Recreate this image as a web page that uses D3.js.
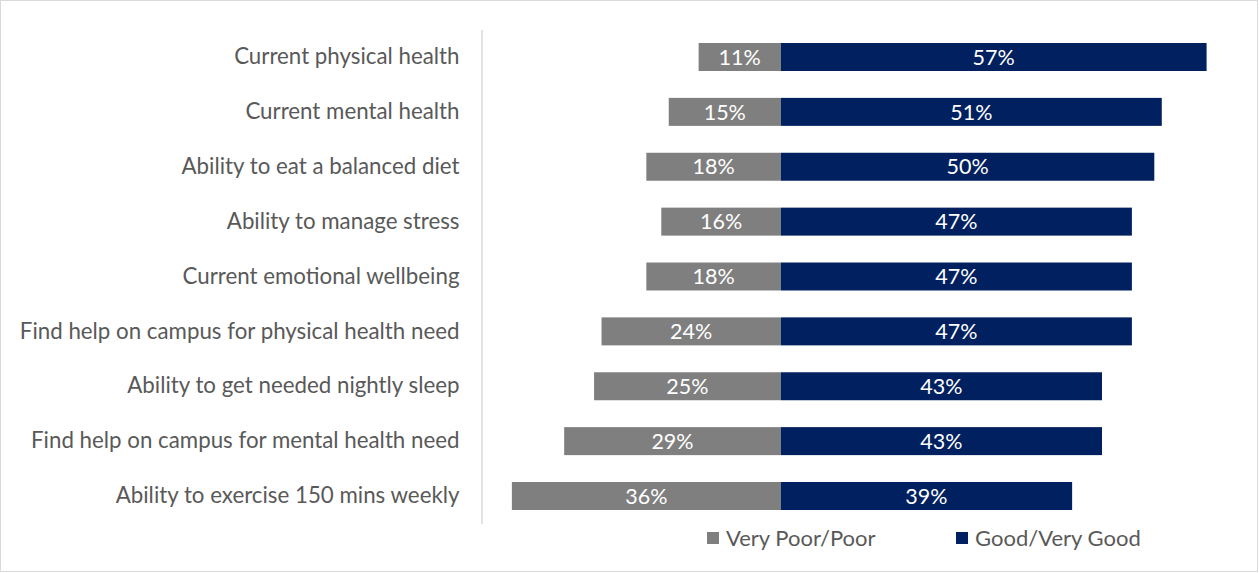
<!DOCTYPE html>
<html>
<head>
<meta charset="utf-8">
<script src="https://cdn.jsdelivr.net/npm/d3@7"></script>
<style>
  html, body { margin: 0; padding: 0; background: #fff; }
  svg { display: block; font-family: Lato, "Open Sans", sans-serif; }
</style>
</head>
<body>
<svg id="chart" width="1259" height="573"></svg>
<script>
// Health & wellbeing self-ratings: share answering poor vs. good
const categories = [
  "Current physical health",
  "Current mental health",
  "Ability to eat a balanced diet",
  "Ability to manage stress",
  "Current emotional wellbeing",
  "Find help on campus for physical health need",
  "Ability to get needed nightly sleep",
  "Find help on campus for mental health need",
  "Ability to exercise 150 mins weekly"
];
const poorValues = [11, 15, 18, 16, 18, 24, 25, 29, 36];
const goodValues = [57, 51, 50, 47, 47, 47, 43, 43, 39];
const seriesNames = ["Very Poor/Poor", "Good/Very Good"];
const seriesColors = ["#7f7f7f", "#002060"];

const svg = d3.select("#chart");

// outer frame
svg.append("rect")
  .attr("x", 0.5).attr("y", 0.5)
  .attr("width", 1257).attr("height", 571)
  .attr("fill", "#fff").attr("stroke", "#d9d9d9");

const x = d3.scaleLinear().domain([-40, 60]).range([482, 1229]);
const y = d3.scaleBand()
  .domain(categories)
  .range([29.56, 523.44])
  .paddingInner(0.49)
  .paddingOuter(0.245);

const rows = categories.map((c, i) => ({ cat: c, poor: poorValues[i], good: goodValues[i] }));

// bars
const g = svg.append("g");
g.selectAll("rect.poor").data(rows).join("rect")
  .attr("class", "poor")
  .attr("x", d => x(-d.poor))
  .attr("y", d => y(d.cat))
  .attr("width", d => x(0) - x(-d.poor))
  .attr("height", y.bandwidth())
  .attr("fill", seriesColors[0]);

g.selectAll("rect.good").data(rows).join("rect")
  .attr("class", "good")
  .attr("x", x(0))
  .attr("y", d => y(d.cat))
  .attr("width", d => x(d.good) - x(0))
  .attr("height", y.bandwidth())
  .attr("fill", seriesColors[1]);

// value labels
g.selectAll("text.poor").data(rows).join("text")
  .attr("class", "poor")
  .attr("x", d => (x(-d.poor) + x(0)) / 2)
  .attr("y", d => y(d.cat) + y.bandwidth() / 2)
  .attr("dy", "0.36em")
  .attr("text-anchor", "middle")
  .attr("fill", "#fff")
  .attr("font-size", 21.5)
  .text(d => d.poor + "%");

g.selectAll("text.good").data(rows).join("text")
  .attr("class", "good")
  .attr("x", d => (x(d.good) + x(0)) / 2)
  .attr("y", d => y(d.cat) + y.bandwidth() / 2)
  .attr("dy", "0.36em")
  .attr("text-anchor", "middle")
  .attr("fill", "#fff")
  .attr("font-size", 21.5)
  .text(d => d.good + "%");

// category axis
const axis = svg.append("g")
  .attr("transform", "translate(481.5,0)")
  .call(d3.axisLeft(y).tickSize(0).tickPadding(22).tickSizeOuter(0));
axis.select(".domain").attr("stroke", "#d9d9d9").attr("stroke-width", 1.5);
axis.selectAll(".tick text")
  .attr("fill", "#595959")
  .attr("font-size", 22.3)
  .attr("font-family", "Lato, 'Open Sans', sans-serif");

// legend
const legend = svg.append("g");
const legendX = [707, 956];
seriesNames.forEach((name, i) => {
  legend.append("rect")
    .attr("x", legendX[i]).attr("y", 532)
    .attr("width", 12).attr("height", 12)
    .attr("fill", seriesColors[i]);
  legend.append("text")
    .attr("x", legendX[i] + 19).attr("y", 538)
    .attr("dy", "0.36em")
    .attr("fill", "#595959")
    .attr("font-size", 22)
    .text(name);
});
</script>
</body>
</html>
